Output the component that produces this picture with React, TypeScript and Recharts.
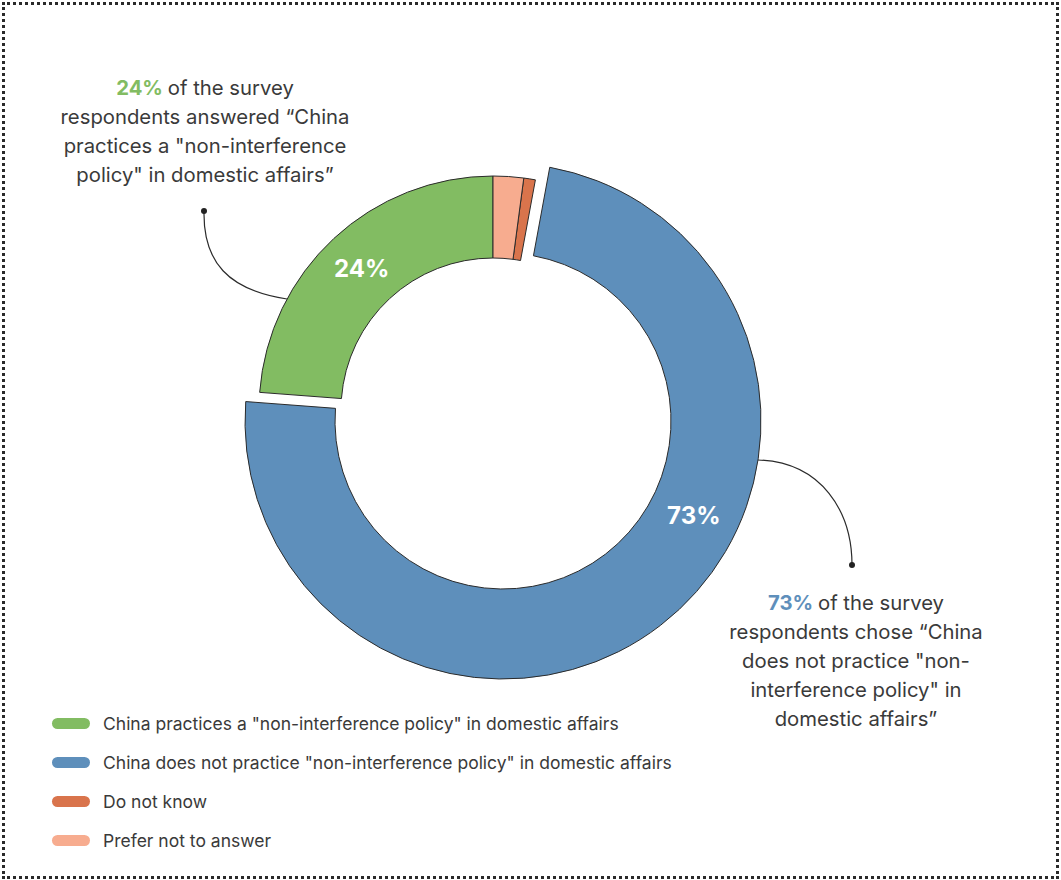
import { PieChart, Pie, Cell, Legend } from 'recharts';

const names = [
  'China practices a "non-interference policy" in domestic affairs',
  'China does not practice "non-interference policy" in domestic affairs',
  'Do not know',
  'Prefer not to answer',
];
const values = [23.8, 73.3, 0.8, 2.1];
const sliceLabels = ['24%', '73%', '', ''];
const colors = ['#82BC62', '#5E8FBB', '#D9744C', '#F7AC8F'];

const leftNote = ['of the survey', 'respondents answered “China', 'practices a "non-interference', 'policy" in domestic affairs”'];
const rightNote = ['of the survey', 'respondents chose “China', 'does not practice "non-', 'interference policy" in', 'domestic affairs”'];

const data = names.map((name, i) => ({ name, value: values[i] }));

const FONT = 'Inter, "Noto Sans", sans-serif';
const RAD = Math.PI / 180;

// which slice each ring draws
function makeLabel(only: number, shift: number) {
  return (props: any) => {
    const { cx, cy, midAngle, innerRadius, outerRadius, index } = props;
    if (index !== only) return <g />;
    const r = (innerRadius + outerRadius) / 2;
    const a = (midAngle + shift) * RAD;
    const x = cx + r * Math.cos(-a);
    const y = cy + r * Math.sin(-a);
    return (
      <text x={x} y={y} fill="#fff" textAnchor="middle" dominantBaseline="central"
        fontFamily={FONT} fontWeight={700} fontSize={24}>
        {sliceLabels[index]}
      </text>
    );
  };
}

function LegendBox() {
  return (
    <div style={{ fontFamily: FONT }}>
      {names.map((n, i) => (
        <div key={n} style={{ display: 'flex', alignItems: 'center', height: 39 }}>
          <span style={{ width: 38, height: 11, borderRadius: 6, background: colors[i], marginRight: 13 }} />
          <span style={{ fontSize: 17.5, color: '#3a3a3a' }}>{n}</span>
        </div>
      ))}
    </div>
  );
}

function Note({ x, y, head, color, lines }: any) {
  return (
    <text x={x} y={y} textAnchor="middle" fontFamily={FONT} fontSize={20.3} fill="#3a3a3a">
      {lines.map((l: string, i: number) => (
        <tspan key={i} x={x} dy={i === 0 ? 0 : 29}>
          {i === 0 && <tspan fill={color} fontWeight={700}>{head} </tspan>}
          {l}
        </tspan>
      ))}
    </text>
  );
}

export default function App() {
  return (
    <div style={{ position: 'absolute', left: 0, top: 0, width: 1061, height: 880, background: '#fff' }}>
      <div style={{ position: 'absolute', left: 2, top: 2, width: 1051, height: 871, border: '3px dotted #2a2a2a' }} />
      <PieChart width={1061} height={880} margin={{ top: 0, right: 0, bottom: 0, left: 0 }}
        style={{ position: 'absolute', left: 0, top: 0 }}>
        <Pie data={data} dataKey="value" nameKey="name" cx={493} cy={410}
          innerRadius={152} outerRadius={234} startAngle={90} endAngle={450}
          isAnimationActive={false} labelLine={false} label={makeLabel(0, 0)}>
          {data.map((d, i) => (
            <Cell key={d.name} fill={i === 1 ? 'none' : colors[i]}
              stroke={i === 1 ? 'none' : '#2b2b2b'} strokeWidth={1} />
          ))}
        </Pie>
        <Pie data={data} dataKey="value" nameKey="name" cx={503} cy={421}
          innerRadius={168} outerRadius={258} startAngle={90} endAngle={450}
          isAnimationActive={false} labelLine={false} label={makeLabel(1, 26)} legendType="none">
          {data.map((d, i) => (
            <Cell key={d.name} fill={i === 1 ? colors[i] : 'none'}
              stroke={i === 1 ? '#2b2b2b' : 'none'} strokeWidth={1} />
          ))}
        </Pie>
        <Legend layout="horizontal" align="left" verticalAlign="bottom" content={<LegendBox />}
          wrapperStyle={{ left: 52, top: 704, width: 700, bottom: 'auto' }} />
        <path d="M204,211 C203,262 228,290 287,299" fill="none" stroke="#2b2b2b" strokeWidth={1.2} />
        <circle cx={204} cy={211} r={3} fill="#222" />
        <path d="M758,460 C822,462 852,512 852,565" fill="none" stroke="#2b2b2b" strokeWidth={1.2} />
        <circle cx={852} cy={565} r={3} fill="#222" />
        <Note x={205} y={95} head="24%" color={colors[0]} lines={leftNote} />
        <Note x={856} y={610} head="73%" color={colors[1]} lines={rightNote} />
      </PieChart>
    </div>
  );
}
